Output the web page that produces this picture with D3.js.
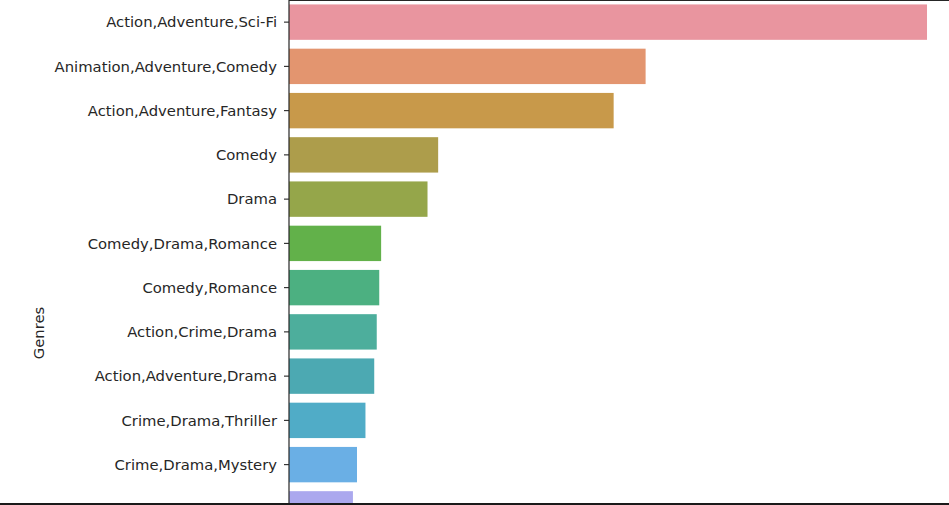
<!DOCTYPE html>
<html>
<head>
<meta charset="utf-8">
<script src="https://cdn.jsdelivr.net/npm/d3@7"></script>
<style>
  body { margin: 0; background: #fff; overflow: hidden; }
  text { font-family: "DejaVu Sans", sans-serif; fill: #262626; }
</style>
</head>
<body>
<svg id="chart" width="949" height="505"></svg>
<script>
// genres, top of the sorted list (the rest falls below the visible area)
var genres = [
    "Action,Adventure,Sci-Fi",
    "Animation,Adventure,Comedy",
    "Action,Adventure,Fantasy",
    "Comedy",
    "Drama",
    "Comedy,Drama,Romance",
    "Comedy,Romance",
    "Action,Crime,Drama",
    "Action,Adventure,Drama",
    "Crime,Drama,Thriller",
    "Crime,Drama,Mystery",
    "Action,Comedy,Crime"
];
// values (no x axis is visible)
var totals = [10180, 5690, 5180, 2380, 2210, 1470, 1440, 1400, 1360, 1220, 1085, 1020];
var barColors = [
    "#e9959f", "#e3956f", "#c8994a", "#ad9d4b", "#95a64a", "#62b14a",
    "#4cb081", "#4dae9c", "#4ca9b2", "#50acc7", "#6aafe5", "#aba8ee"
];

var svg = d3.select("#chart");
var marginLeft = 289, marginTop = 0;
var plotWidth = 680, step = 44.25;

var x = d3.scaleLinear().domain([0, 10850]).range([0, plotWidth]);
var y = d3.scaleBand().domain(genres)
    .range([0, step * genres.length]).paddingInner(0.2).paddingOuter(0.1);

var g = svg.append("g").attr("transform", "translate(" + marginLeft + "," + marginTop + ")");

g.selectAll("rect")
    .data(genres)
    .enter().append("rect")
      .attr("x", 0)
      .attr("y", function(d) { return y(d); })
      .attr("width", function(d, i) { return x(totals[i]); })
      .attr("height", y.bandwidth())
      .style("fill", function(d, i) { return barColors[i]; });

var yAxis = d3.axisLeft(y).tickSize(5).tickPadding(7).tickSizeOuter(0);
var ax = g.append("g").call(yAxis);
ax.select(".domain").remove();
ax.selectAll(".tick line").attr("stroke", "#262626").attr("stroke-width", 1.1);
ax.selectAll(".tick text")
    .style("font-size", "14.8px")
    .attr("dy", "0.35em");

// spines
g.append("line")
    .attr("x1", 0).attr("x2", 0).attr("y1", 0).attr("y2", 505)
    .attr("stroke", "#262626").attr("stroke-width", 1.2);
g.append("line")
    .attr("x1", 0).attr("x2", 949).attr("y1", 0.5).attr("y2", 0.5)
    .attr("stroke", "#262626").attr("stroke-width", 1.2);
svg.append("line")
    .attr("x1", 0).attr("x2", 949).attr("y1", 504).attr("y2", 504)
    .attr("stroke", "#1a1a1a").attr("stroke-width", 2.2);

svg.append("g")
    .attr("transform", "translate(44,333)")
    .append("text")
    .attr("text-anchor", "middle")
    .style("font-size", "14.8px")
    .attr("transform", "rotate(-90)")
    .text("Genres");
</script>
</body>
</html>
